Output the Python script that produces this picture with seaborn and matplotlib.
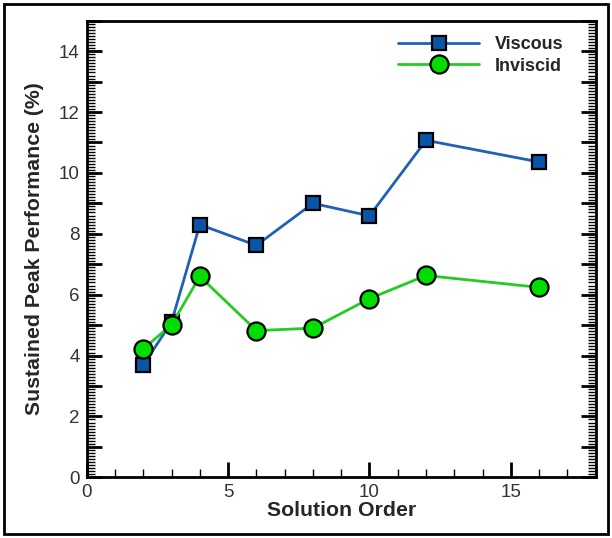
import matplotlib
matplotlib.use("Agg")
import matplotlib.pyplot as plt
from matplotlib.ticker import MultipleLocator, FixedLocator, FuncFormatter
from matplotlib.patches import Rectangle
import seaborn as sns
import pandas as pd
import numpy as np

# Solution order and sustained peak performance (%)
solution_order = [2, 3, 4, 6, 8, 10, 12, 16]
viscous = [3.69, 5.10, 8.30, 7.62, 9.00, 8.59, 11.07, 10.36]
inviscid = [4.22, 5.01, 6.60, 4.82, 4.90, 5.87, 6.63, 6.24]

series_names = ["Viscous", "Inviscid"]
line_colors = {"Viscous": "#1f62b3", "Inviscid": "#22cc22"}
face_colors = {"Viscous": "#0a55a8", "Inviscid": "#00dd00"}
marker_shapes = {"Viscous": "s", "Inviscid": "o"}
marker_sizes = {"Viscous": 10, "Inviscid": 13}

df = pd.DataFrame({
    "order": solution_order * 2,
    "perf": viscous + inviscid,
    "case": ["Viscous"] * len(viscous) + ["Inviscid"] * len(inviscid),
})

sns.set_theme(style="white")
plt.rcParams["font.family"] = ["Liberation Sans", "DejaVu Sans"]

fig = plt.figure(figsize=(6.12, 5.38), dpi=100)
ax = fig.add_axes([0.1417, 0.1128, 0.9734 - 0.1417, 0.9615 - 0.1128])

for name in series_names:
    sub = df[df["case"] == name]
    sns.lineplot(
        data=sub, x="order", y="perf", ax=ax,
        color=line_colors[name], linewidth=2.0,
        marker=marker_shapes[name], markersize=marker_sizes[name],
        markerfacecolor=face_colors[name], markeredgecolor="black",
        markeredgewidth=1.6, label=name, zorder=3,
    )

ax.set_xlim(0, 18)
ax.set_ylim(0, 15)

# Major ticks every 1 on y (labels on even values), fine minor ticks every 0.1
ax.xaxis.set_major_locator(MultipleLocator(5))
ax.xaxis.set_minor_locator(MultipleLocator(1))
ax.yaxis.set_major_locator(MultipleLocator(1))
ax.yaxis.set_minor_locator(FixedLocator(np.round(np.arange(0, 150) / 10.0, 1)))
ax.yaxis.set_major_formatter(
    FuncFormatter(lambda v, p: f"{int(round(v))}" if int(round(v)) % 2 == 0 else "")
)

ax.tick_params(axis="x", which="major", direction="in", length=11, width=2,
               bottom=True, top=False, labelsize=13.5, pad=5, color="black")
ax.tick_params(axis="x", which="minor", direction="in", length=6, width=1,
               bottom=True, top=False, color="black")
ax.tick_params(axis="y", which="major", direction="in", length=11, width=2,
               left=True, right=True, labelsize=13.5, pad=5, color="black")
ax.tick_params(axis="y", which="minor", direction="in", length=6, width=1,
               left=True, right=True, color="black")
ax.tick_params(axis="both", which="major", labelcolor="#333333")

for sp in ax.spines.values():
    sp.set_linewidth(2)
    sp.set_color("black")

ax.set_xlabel("Solution Order", fontsize=15.3, fontweight="bold", labelpad=0)
ax.set_ylabel("Sustained Peak Performance (%)", fontsize=15.3, fontweight="bold",
              labelpad=11)

leg = ax.legend(loc="upper right", bbox_to_anchor=(0.961, 0.994), frameon=False,
                fontsize=13, handlelength=4.5, handletextpad=0.85,
                labelspacing=0.25, borderaxespad=0.3)
for t in leg.get_texts():
    t.set_fontweight("bold")

# outer frame around the figure
fig.patches.append(Rectangle((0.007, 0.007), 0.986, 0.986, transform=fig.transFigure,
                             fill=False, edgecolor="black", linewidth=2))

fig.savefig("out.png", dpi=100)
